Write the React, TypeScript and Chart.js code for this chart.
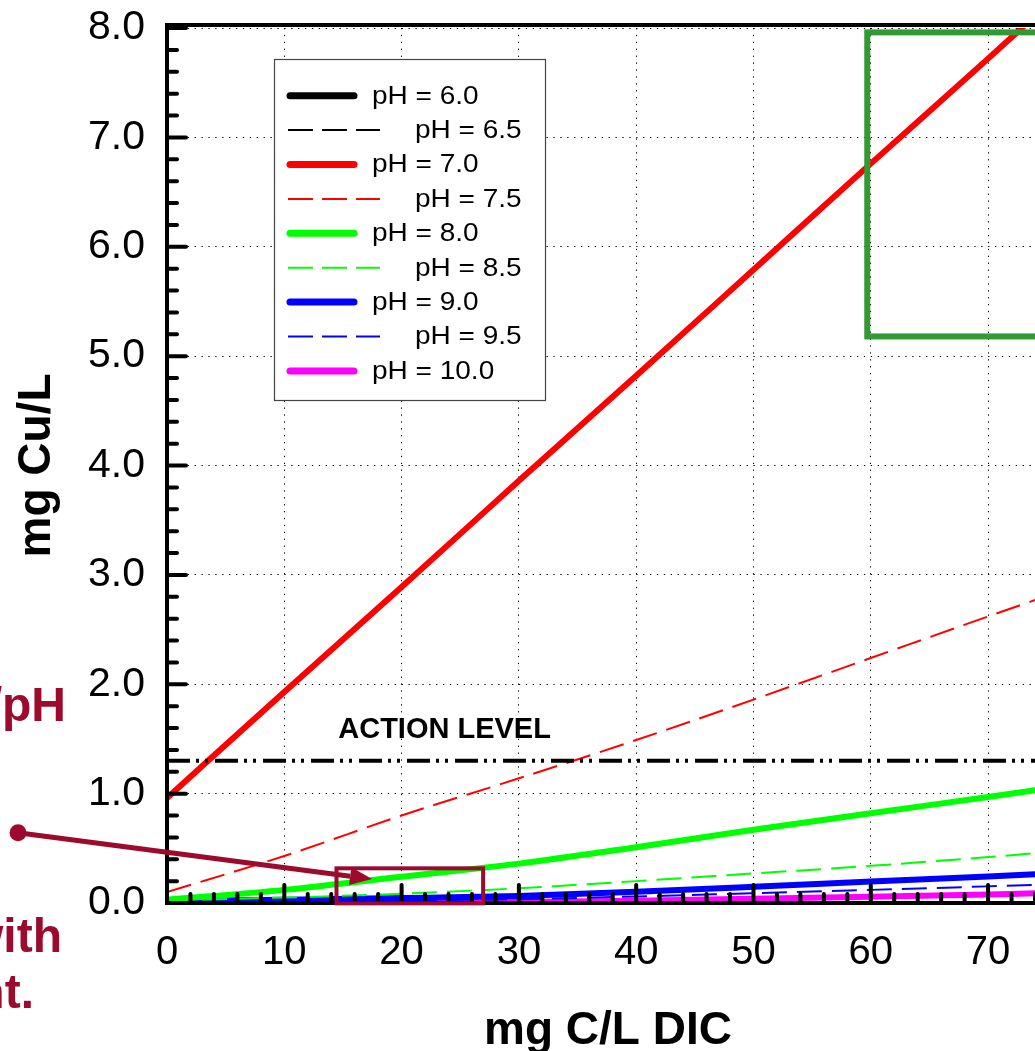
import React, { useEffect, useRef } from "react";
import { Chart, registerables } from "chart.js";

Chart.register(...registerables);

// ---------- DATA ----------
const dic = [0, 10, 20, 30, 40, 50, 60, 70, 74]; // mg C/L DIC
const pH60: number[] = []; // off scale (above 8 mg/L)
const pH65: number[] = []; // off scale (above 8 mg/L)
const pH70 = [0.96, 1.93, 2.89, 3.86, 4.82, 5.79, 6.76, 7.72, 8.11];
const pH75 = [0.1, 0.43, 0.8, 1.14, 1.49, 1.86, 2.24, 2.62, 2.77];
const pH80 = [0.03, 0.12, 0.24, 0.36, 0.51, 0.67, 0.82, 0.97, 1.03];
const pH85 = [0.025, 0.05, 0.085, 0.135, 0.2, 0.27, 0.34, 0.42, 0.455];
const pH90 = [0.02, 0.03, 0.045, 0.065, 0.103, 0.148, 0.196, 0.243, 0.262];
const pH95 = [0.005, 0.015, 0.025, 0.035, 0.06, 0.09, 0.12, 0.152, 0.165];
const pH100 = [0.0, 0.002, 0.005, 0.01, 0.02, 0.04, 0.058, 0.078, 0.089];
const seriesLabels = ["pH = 6.0", "pH = 6.5", "pH = 7.0", "pH = 7.5", "pH = 8.0", "pH = 8.5", "pH = 9.0", "pH = 9.5", "pH = 10.0"];
const actionLevel = 1.3; // mg Cu/L
const actionLevelRange = [0, 74];
const xTickValues = [0, 10, 20, 30, 40, 50, 60, 70];
const yTickLabels = ["0.0", "1.0", "2.0", "3.0", "4.0", "5.0", "6.0", "7.0", "8.0"];

// annotation regions (data units)
const highlightBox = { x0: 14.45, x1: 26.95, y0: -0.003, y1: 0.317 };
const greenBox = { x0: 59.7, x1: 80, y0: 5.18, y1: 7.96 };
const arrowFrom = { x: -12.7, y: 0.643 };
const arrowTo = { x: 17.48, y: 0.219 };

const FONT = "'Liberation Sans', Arial, Helvetica, sans-serif";
const DARKRED = "#9C0A2E";

const toXY = (vals: number[]) => vals.map((v, i) => ({ x: dic[i], y: v }));

const solid = (label: string, color: string, vals: number[]) => ({
  label,
  data: toXY(vals),
  borderColor: color,
  backgroundColor: color,
  borderWidth: 6,
  borderCapStyle: "round",
  borderJoinStyle: "round",
  pointRadius: 0,
  cubicInterpolationMode: "monotone",
  fill: false,
  order: 2,
});
const dashed = (label: string, color: string, vals: number[]) => ({
  label,
  data: toXY(vals),
  borderColor: color,
  backgroundColor: color,
  borderWidth: 2,
  borderDash: [25, 10],
  pointRadius: 0,
  cubicInterpolationMode: "monotone",
  fill: false,
  order: 1,
});

const overlay = {
  id: "overlay",
  afterDatasetsDraw(chart: any) {
    const { ctx, chartArea: ca, scales } = chart;
    const xs = scales.x;
    const ys = scales.y;
    const px = (v: number) => xs.getPixelForValue(v);
    const py = (v: number) => ys.getPixelForValue(v);
    ctx.save();

    // frame
    ctx.strokeStyle = "#000";
    ctx.lineWidth = 4;
    ctx.lineCap = "butt";
    ctx.setLineDash([]);
    ctx.beginPath();
    ctx.moveTo(ca.left, ca.bottom + 2);
    ctx.lineTo(ca.left, ca.top - 5);
    ctx.moveTo(ca.left - 2, ca.top - 3);
    ctx.lineTo(ca.right + 5, ca.top - 3);
    ctx.moveTo(ca.left - 2, ca.bottom);
    ctx.lineTo(ca.right + 5, ca.bottom);
    ctx.stroke();

    // inward ticks
    ctx.lineCap = "round";
    ctx.lineWidth = 4;
    ctx.beginPath();
    for (let i = 0; i <= 40; i++) {
      const v = i * 0.2;
      const major = i % 5 === 0;
      const yy = py(v);
      ctx.moveTo(ca.left, yy);
      ctx.lineTo(ca.left + (major ? 19 : 10), yy);
    }
    for (let v = 0; v <= xs.max + 0.001; v += 2) {
      const major = v % 10 === 0;
      const xx = px(v);
      ctx.moveTo(xx, ca.bottom);
      ctx.lineTo(xx, ca.bottom - (major ? 18 : 9));
    }
    ctx.stroke();

    // ACTION LEVEL label
    ctx.fillStyle = "#000";
    ctx.font = `bold 29px ${FONT}`;
    ctx.textAlign = "left";
    ctx.textBaseline = "alphabetic";
    ctx.fillText("ACTION LEVEL", px(14.6), py(actionLevel) - 23);

    // green box
    ctx.lineCap = "butt";
    ctx.strokeStyle = "#339933";
    ctx.lineWidth = 6;
    ctx.strokeRect(px(greenBox.x0), py(greenBox.y1), px(greenBox.x1) - px(greenBox.x0), py(greenBox.y0) - py(greenBox.y1));

    // highlight box
    ctx.strokeStyle = DARKRED;
    ctx.lineWidth = 4;
    ctx.strokeRect(px(highlightBox.x0), py(highlightBox.y1), px(highlightBox.x1) - px(highlightBox.x0), py(highlightBox.y0) - py(highlightBox.y1));

    // arrow
    const ax0 = px(arrowFrom.x), ay0 = py(arrowFrom.y);
    const ax1 = px(arrowTo.x), ay1 = py(arrowTo.y);
    const ang = Math.atan2(ay1 - ay0, ax1 - ax0);
    const headLen = 22, headW = 9;
    const bx = ax1 - headLen * Math.cos(ang), by = ay1 - headLen * Math.sin(ang);
    ctx.strokeStyle = DARKRED;
    ctx.fillStyle = DARKRED;
    ctx.lineWidth = 5;
    ctx.beginPath();
    ctx.moveTo(ax0, ay0);
    ctx.lineTo(bx, by);
    ctx.stroke();
    ctx.beginPath();
    ctx.moveTo(ax1, ay1);
    ctx.lineTo(bx + headW * Math.sin(ang), by - headW * Math.cos(ang));
    ctx.lineTo(bx - headW * Math.sin(ang), by + headW * Math.cos(ang));
    ctx.closePath();
    ctx.fill();
    ctx.beginPath();
    ctx.arc(ax0, ay0, 8.5, 0, Math.PI * 2);
    ctx.fill();

    // cropped side text
    ctx.font = `bold 48px ${FONT}`;
    ctx.textAlign = "right";
    ctx.fillText("/pH", 66, 721);
    ctx.fillText("with", 62, 952);
    ctx.fillText("nt.", 34, 1008);

    // axis titles
    ctx.fillStyle = "#000";
    ctx.font = `bold 46px ${FONT}`;
    ctx.textAlign = "center";
    ctx.fillText("mg C/L DIC", 608, 1044);
    ctx.save();
    ctx.translate(50, (ca.top + ca.bottom) / 2);
    ctx.rotate(-Math.PI / 2);
    ctx.fillText("mg Cu/L", 0, 0);
    ctx.restore();

    // legend
    const L = { left: 274, top: 59, right: 545, bottom: 400 };
    ctx.fillStyle = "#fff";
    ctx.fillRect(L.left, L.top, L.right - L.left, L.bottom - L.top);
    ctx.strokeStyle = "#444";
    ctx.lineWidth = 1.2;
    ctx.setLineDash([]);
    ctx.strokeRect(L.left + 0.5, L.top + 0.5, L.right - L.left, L.bottom - L.top);
    ctx.font = `25px ${FONT}`;
    ctx.textAlign = "left";
    ctx.textBaseline = "middle";
    const entries = chart.data.datasets.filter((d: any) => d.label && d.label.startsWith("pH"));
    entries.forEach((d: any, i: number) => {
      const yy = 95.7 + i * 34.4;
      const isDashed = d.borderDash && d.borderDash.length;
      ctx.strokeStyle = d.borderColor;
      if (isDashed) {
        ctx.lineWidth = 2;
        ctx.lineCap = "butt";
        ctx.setLineDash([25, 9]);
        ctx.beginPath();
        ctx.moveTo(288, yy);
        ctx.lineTo(380, yy);
        ctx.stroke();
      } else {
        ctx.lineWidth = 7;
        ctx.lineCap = "round";
        ctx.setLineDash([]);
        ctx.beginPath();
        ctx.moveTo(290, yy);
        ctx.lineTo(354, yy);
        ctx.stroke();
      }
      ctx.setLineDash([]);
      ctx.fillStyle = "#000";
      ctx.save();
      ctx.translate(isDashed ? 415 : 372, yy + 1);
      ctx.scale(1.12, 1);
      ctx.fillText(d.label, 0, 0);
      ctx.restore();
    });

    ctx.restore();
  },
};

export default function App() {
  const ref = useRef<HTMLCanvasElement | null>(null);
  useEffect(() => {
    if (!ref.current) return;
    Chart.defaults.font.family = FONT;
    const chart = new Chart(ref.current, {
      type: "line",
      data: {
        datasets: [
          solid(seriesLabels[0], "#000000", pH60),
          dashed(seriesLabels[1], "#000000", pH65),
          solid(seriesLabels[2], "#FF0000", pH70),
          dashed(seriesLabels[3], "#FF0000", pH75),
          solid(seriesLabels[4], "#00FF00", pH80),
          dashed(seriesLabels[5], "#00FF00", pH85),
          solid(seriesLabels[6], "#0000FF", pH90),
          dashed(seriesLabels[7], "#0000FF", pH95),
          solid(seriesLabels[8], "#FF00FF", pH100),
          {
            label: "ACTION LEVEL",
            data: actionLevelRange.map((x) => ({ x, y: actionLevel })),
            borderColor: "#000",
            borderWidth: 4,
            borderDash: [23, 6, 3, 6, 3, 7],
            pointRadius: 0,
            fill: false,
            order: 0,
          } as any,
        ] as any,
      },
      options: {
        responsive: false,
        animation: false,
        events: [],
        layout: { padding: { top: 28, right: 0, left: 0, bottom: 0 } },
        plugins: { legend: { display: false }, tooltip: { enabled: false } },
        scales: {
          x: {
            type: "linear",
            min: 0,
            max: 74,
            afterFit: (s: any) => {
              s.height = 148;
              s.paddingLeft = 0;
              s.paddingRight = 0;
            },
            afterBuildTicks: (s: any) => {
              s.ticks = xTickValues.map((v) => ({ value: v }));
            },
            ticks: {
              stepSize: 10,
              includeBounds: false,
              autoSkip: false,
              maxRotation: 0,
              padding: 26,
              color: "#000",
              font: { size: 40, family: FONT },
              callback: (v: any) => String(v),
            },
            grid: { color: "#000", lineWidth: 1, drawTicks: false },
            border: { display: false, dash: [1.3, 5.6] },
          },
          y: {
            type: "linear",
            min: 0,
            max: 8,
            afterFit: (s: any) => {
              s.width = 167;
              s.paddingTop = 0;
              s.paddingBottom = 0;
            },
            ticks: {
              stepSize: 1,
              padding: 22,
              color: "#000",
              font: { size: 41, family: FONT },
              callback: (v: any) => yTickLabels[Math.round(v)] ?? "",
            },
            grid: { color: "#000", lineWidth: 1, drawTicks: false },
            border: { display: false, dash: [1.3, 5.6] },
          },
        },
      },
      plugins: [overlay],
    } as any);
    return () => chart.destroy();
  }, []);
  return (
    <div style={{ position: "absolute", left: 0, top: 0, width: 1035, height: 1051, overflow: "hidden", background: "#fff" }}>
      <canvas ref={ref} width={1035} height={1051} style={{ display: "block" }} />
    </div>
  );
}
